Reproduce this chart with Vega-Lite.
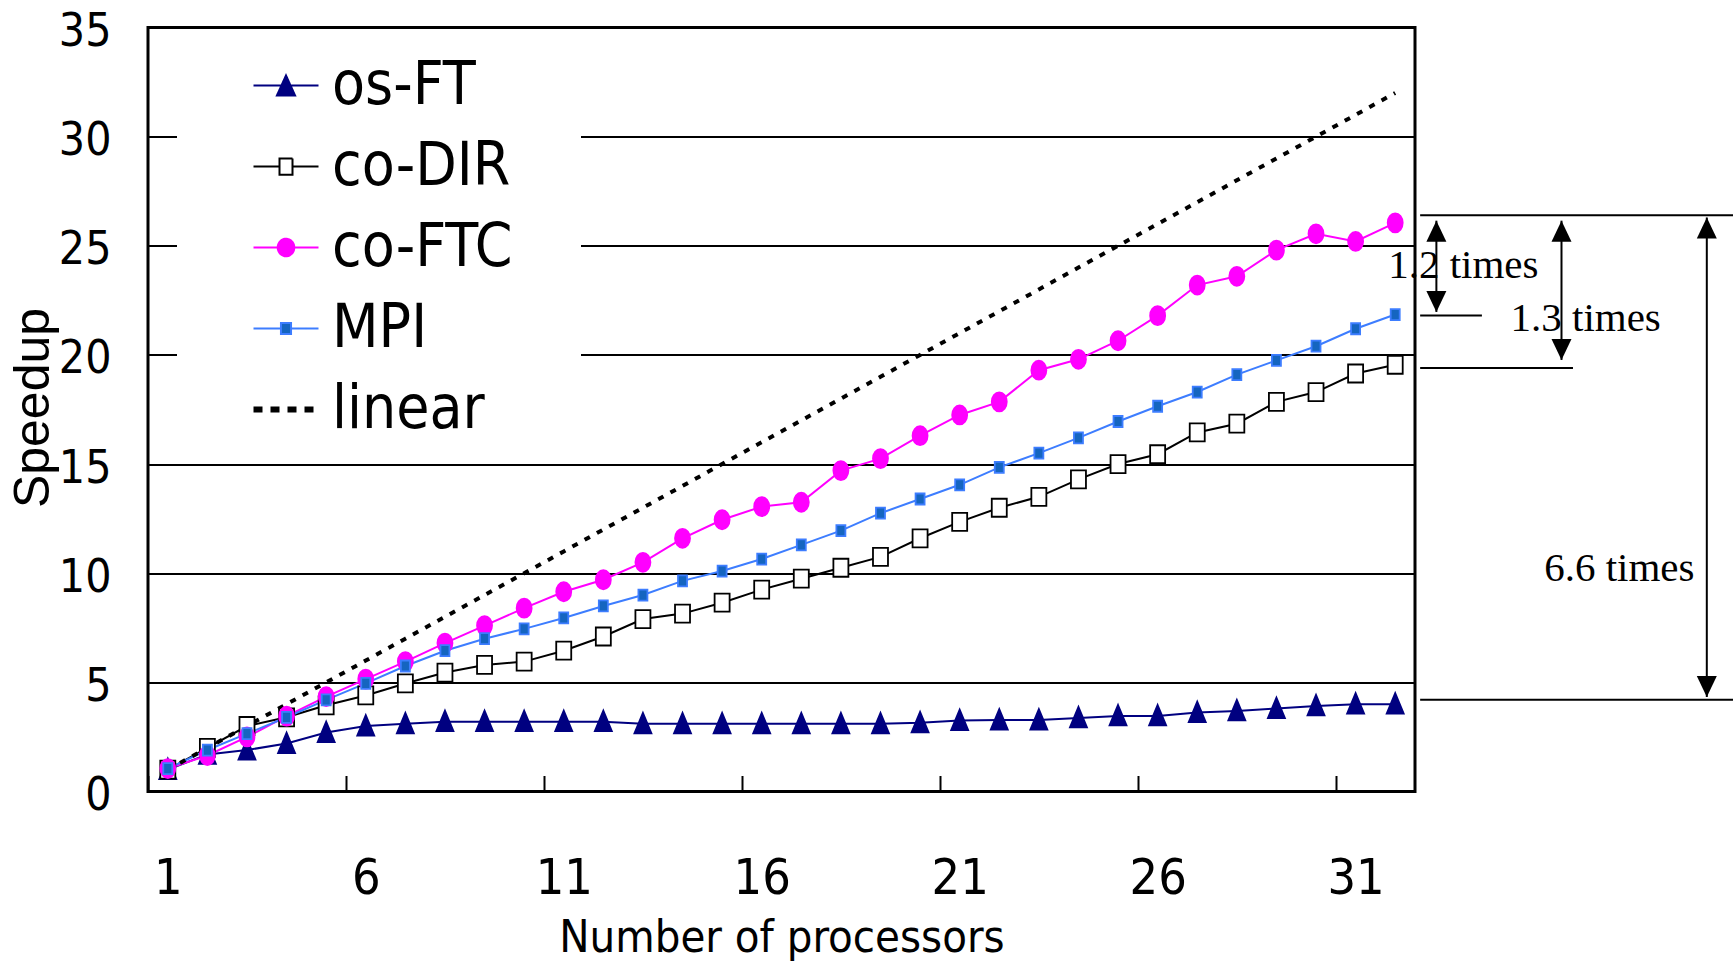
{
  "$schema": "https://vega.github.io/schema/vega-lite/v6.json",
  "width": 1267,
  "height": 764,
  "autosize": {"type": "none"},
  "padding": {"left": 148, "top": 27.5, "right": 318, "bottom": 175.5},
  "background": "white",
  "config": {
    "view": {"stroke": "black", "strokeWidth": 3},
    "axis": {"labelColor": "black", "titleColor": "black"}
  },
  "data": {"values": [
    {"p":1,"series":"os-FT","speedup":1.0},{"p":2,"series":"os-FT","speedup":1.7},{"p":3,"series":"os-FT","speedup":1.9},{"p":4,"series":"os-FT","speedup":2.2},{"p":5,"series":"os-FT","speedup":2.7},{"p":6,"series":"os-FT","speedup":3.0},{"p":7,"series":"os-FT","speedup":3.1},{"p":8,"series":"os-FT","speedup":3.2},{"p":9,"series":"os-FT","speedup":3.2},{"p":10,"series":"os-FT","speedup":3.2},{"p":11,"series":"os-FT","speedup":3.2},{"p":12,"series":"os-FT","speedup":3.2},{"p":13,"series":"os-FT","speedup":3.1},{"p":14,"series":"os-FT","speedup":3.1},{"p":15,"series":"os-FT","speedup":3.1},{"p":16,"series":"os-FT","speedup":3.1},{"p":17,"series":"os-FT","speedup":3.1},{"p":18,"series":"os-FT","speedup":3.1},{"p":19,"series":"os-FT","speedup":3.1},{"p":20,"series":"os-FT","speedup":3.15},{"p":21,"series":"os-FT","speedup":3.25},{"p":22,"series":"os-FT","speedup":3.27},{"p":23,"series":"os-FT","speedup":3.27},{"p":24,"series":"os-FT","speedup":3.37},{"p":25,"series":"os-FT","speedup":3.46},{"p":26,"series":"os-FT","speedup":3.46},{"p":27,"series":"os-FT","speedup":3.62},{"p":28,"series":"os-FT","speedup":3.69},{"p":29,"series":"os-FT","speedup":3.8},{"p":30,"series":"os-FT","speedup":3.92},{"p":31,"series":"os-FT","speedup":4.0},{"p":32,"series":"os-FT","speedup":4.0},
    {"p":1,"series":"co-DIR","speedup":1.0},{"p":2,"series":"co-DIR","speedup":2.0},{"p":3,"series":"co-DIR","speedup":3.0},{"p":4,"series":"co-DIR","speedup":3.4},{"p":5,"series":"co-DIR","speedup":3.95},{"p":6,"series":"co-DIR","speedup":4.4},{"p":7,"series":"co-DIR","speedup":4.95},{"p":8,"series":"co-DIR","speedup":5.45},{"p":9,"series":"co-DIR","speedup":5.8},{"p":10,"series":"co-DIR","speedup":5.95},{"p":11,"series":"co-DIR","speedup":6.45},{"p":12,"series":"co-DIR","speedup":7.1},{"p":13,"series":"co-DIR","speedup":7.9},{"p":14,"series":"co-DIR","speedup":8.15},{"p":15,"series":"co-DIR","speedup":8.65},{"p":16,"series":"co-DIR","speedup":9.25},{"p":17,"series":"co-DIR","speedup":9.75},{"p":18,"series":"co-DIR","speedup":10.25},{"p":19,"series":"co-DIR","speedup":10.75},{"p":20,"series":"co-DIR","speedup":11.6},{"p":21,"series":"co-DIR","speedup":12.35},{"p":22,"series":"co-DIR","speedup":13.0},{"p":23,"series":"co-DIR","speedup":13.5},{"p":24,"series":"co-DIR","speedup":14.3},{"p":25,"series":"co-DIR","speedup":15.0},{"p":26,"series":"co-DIR","speedup":15.45},{"p":27,"series":"co-DIR","speedup":16.45},{"p":28,"series":"co-DIR","speedup":16.85},{"p":29,"series":"co-DIR","speedup":17.85},{"p":30,"series":"co-DIR","speedup":18.3},{"p":31,"series":"co-DIR","speedup":19.15},{"p":32,"series":"co-DIR","speedup":19.55},
    {"p":1,"series":"co-FTC","speedup":1.05},{"p":2,"series":"co-FTC","speedup":1.65},{"p":3,"series":"co-FTC","speedup":2.5},{"p":4,"series":"co-FTC","speedup":3.45},{"p":5,"series":"co-FTC","speedup":4.35},{"p":6,"series":"co-FTC","speedup":5.15},{"p":7,"series":"co-FTC","speedup":5.95},{"p":8,"series":"co-FTC","speedup":6.8},{"p":9,"series":"co-FTC","speedup":7.6},{"p":10,"series":"co-FTC","speedup":8.4},{"p":11,"series":"co-FTC","speedup":9.15},{"p":12,"series":"co-FTC","speedup":9.7},{"p":13,"series":"co-FTC","speedup":10.5},{"p":14,"series":"co-FTC","speedup":11.6},{"p":15,"series":"co-FTC","speedup":12.45},{"p":16,"series":"co-FTC","speedup":13.05},{"p":17,"series":"co-FTC","speedup":13.25},{"p":18,"series":"co-FTC","speedup":14.7},{"p":19,"series":"co-FTC","speedup":15.25},{"p":20,"series":"co-FTC","speedup":16.3},{"p":21,"series":"co-FTC","speedup":17.25},{"p":22,"series":"co-FTC","speedup":17.85},{"p":23,"series":"co-FTC","speedup":19.3},{"p":24,"series":"co-FTC","speedup":19.8},{"p":25,"series":"co-FTC","speedup":20.65},{"p":26,"series":"co-FTC","speedup":21.8},{"p":27,"series":"co-FTC","speedup":23.2},{"p":28,"series":"co-FTC","speedup":23.6},{"p":29,"series":"co-FTC","speedup":24.8},{"p":30,"series":"co-FTC","speedup":25.55},{"p":31,"series":"co-FTC","speedup":25.2},{"p":32,"series":"co-FTC","speedup":26.05},
    {"p":1,"series":"MPI","speedup":1.05},{"p":2,"series":"MPI","speedup":1.9},{"p":3,"series":"MPI","speedup":2.65},{"p":4,"series":"MPI","speedup":3.4},{"p":5,"series":"MPI","speedup":4.2},{"p":6,"series":"MPI","speedup":4.95},{"p":7,"series":"MPI","speedup":5.75},{"p":8,"series":"MPI","speedup":6.45},{"p":9,"series":"MPI","speedup":7.0},{"p":10,"series":"MPI","speedup":7.45},{"p":11,"series":"MPI","speedup":7.95},{"p":12,"series":"MPI","speedup":8.5},{"p":13,"series":"MPI","speedup":9.0},{"p":14,"series":"MPI","speedup":9.65},{"p":15,"series":"MPI","speedup":10.1},{"p":16,"series":"MPI","speedup":10.65},{"p":17,"series":"MPI","speedup":11.3},{"p":18,"series":"MPI","speedup":11.95},{"p":19,"series":"MPI","speedup":12.75},{"p":20,"series":"MPI","speedup":13.4},{"p":21,"series":"MPI","speedup":14.05},{"p":22,"series":"MPI","speedup":14.85},{"p":23,"series":"MPI","speedup":15.5},{"p":24,"series":"MPI","speedup":16.2},{"p":25,"series":"MPI","speedup":16.95},{"p":26,"series":"MPI","speedup":17.65},{"p":27,"series":"MPI","speedup":18.3},{"p":28,"series":"MPI","speedup":19.1},{"p":29,"series":"MPI","speedup":19.75},{"p":30,"series":"MPI","speedup":20.4},{"p":31,"series":"MPI","speedup":21.2},{"p":32,"series":"MPI","speedup":21.85},
    {"p":1,"series":"linear","speedup":1},{"p":2,"series":"linear","speedup":2},{"p":3,"series":"linear","speedup":3},{"p":4,"series":"linear","speedup":4},{"p":5,"series":"linear","speedup":5},{"p":6,"series":"linear","speedup":6},{"p":7,"series":"linear","speedup":7},{"p":8,"series":"linear","speedup":8},{"p":9,"series":"linear","speedup":9},{"p":10,"series":"linear","speedup":10},{"p":11,"series":"linear","speedup":11},{"p":12,"series":"linear","speedup":12},{"p":13,"series":"linear","speedup":13},{"p":14,"series":"linear","speedup":14},{"p":15,"series":"linear","speedup":15},{"p":16,"series":"linear","speedup":16},{"p":17,"series":"linear","speedup":17},{"p":18,"series":"linear","speedup":18},{"p":19,"series":"linear","speedup":19},{"p":20,"series":"linear","speedup":20},{"p":21,"series":"linear","speedup":21},{"p":22,"series":"linear","speedup":22},{"p":23,"series":"linear","speedup":23},{"p":24,"series":"linear","speedup":24},{"p":25,"series":"linear","speedup":25},{"p":26,"series":"linear","speedup":26},{"p":27,"series":"linear","speedup":27},{"p":28,"series":"linear","speedup":28},{"p":29,"series":"linear","speedup":29},{"p":30,"series":"linear","speedup":30},{"p":31,"series":"linear","speedup":31},{"p":32,"series":"linear","speedup":32}
  ]},
  "layer": [
    {
      "transform": [{"filter": "datum.series !== 'linear'"}],
      "mark": {"type": "line", "strokeWidth": 2},
      "encoding": {
        "x": {"field": "p", "type": "quantitative",
          "scale": {"domain": [0.5, 32.5], "nice": false, "zero": false},
          "axis": {
            "title": "Number of processors",
            "values": [0.5, 5.5, 10.5, 15.5, 20.5, 25.5, 30.5],
            "labelExpr": "'' + (datum.value + 0.5)",
            "labelOffset": 19.8,
            "labelFlush": false, "labelOverlap": false,
            "grid": false, "domain": false,
            "ticks": true, "tickSize": -16, "tickWidth": 2, "tickColor": "black",
            "labelFont": "Liberation Sans Narrow, DejaVu Sans Condensed, sans-serif",
            "labelFontSize": 50, "labelBaseline": "alphabetic", "labelPadding": 118,
            "titleFont": "Liberation Sans Narrow, DejaVu Sans Condensed, sans-serif",
            "titleFontSize": 45, "titleFontWeight": "normal",
            "titleX": 633.5, "titleY": 160, "titleBaseline": "alphabetic", "titleAlign": "center"
          }
        },
        "y": {"field": "speedup", "type": "quantitative",
          "scale": {"domain": [0, 35], "nice": false, "zero": false},
          "axis": {
            "title": "Speedup",
            "values": [0, 5, 10, 15, 20, 25, 30, 35],
            "grid": true, "gridColor": "black", "gridWidth": 1.8, "gridOpacity": 1,
            "domain": false, "ticks": false,
            "labelFlush": false, "labelOverlap": false,
            "labelPadding": 37, "labelOffset": 4,
            "labelFont": "Liberation Sans Narrow, DejaVu Sans Condensed, sans-serif",
            "labelFontSize": 46, "labelBaseline": "middle",
            "titleFont": "Liberation Sans, Arial, sans-serif",
            "titleFontSize": 50, "titleFontWeight": "normal",
            "titleAngle": 270, "titleX": -100, "titleY": 380,
            "titleBaseline": "alphabetic", "titleAlign": "center"
          }
        },
        "stroke": {"field": "series", "type": "nominal",
          "scale": {"domain": ["os-FT", "co-DIR", "co-FTC", "MPI", "linear"],
                    "range": ["#000080", "#000000", "#ff00ff", "#3d7dff", "#000000"]},
          "legend": {
            "title": null, "orient": "none", "legendX": 29, "legendY": 10,
            "fillColor": "white", "padding": 18,
            "symbolSize": 4225, "symbolStrokeWidth": 2, "symbolOffset": 61,
            "labelFont": "Liberation Sans Narrow, DejaVu Sans Condensed, sans-serif",
            "labelFontSize": 60, "labelColor": "black", "labelLimit": 800,
            "labelOffset": 16, "rowPadding": 21,
            "labelExpr": "datum.label + '\u2009\u2800'",
            "encode": {
              "symbols": {
                "update": {
                  "shape": {"signal": "datum.value === 'os-FT' ? 'M-1,0H1M0,-0.31L0.28,0.31L-0.28,0.31Z' : datum.value === 'co-DIR' ? 'M-1,0H-0.2M0.2,0H1M-0.2,-0.25H0.2V0.25H-0.2Z' : datum.value === 'co-FTC' ? 'M-1,0H1M-0.255,0C-0.255,-0.149 -0.141,-0.27 0,-0.27C0.141,-0.27 0.255,-0.149 0.255,0C0.255,0.149 0.141,0.27 0,0.27C-0.141,0.27 -0.255,0.149 -0.255,0Z' : datum.value === 'MPI' ? 'M-1,0H-0.155M0.155,0H1M-0.155,-0.17H0.155V0.17H-0.155Z' : 'M-1,0H1'"},
                  "fill": {"signal": "datum.value === 'os-FT' ? '#000080' : datum.value === 'co-DIR' ? '#ffffff' : datum.value === 'co-FTC' ? '#ff00ff' : datum.value === 'MPI' ? '#1565c0' : 'transparent'"},
                  "stroke": {"signal": "datum.value === 'os-FT' ? '#000080' : datum.value === 'co-FTC' ? '#ff00ff' : datum.value === 'MPI' ? '#3d7dff' : '#000000'"},
                  "strokeWidth": {"signal": "datum.value === 'linear' ? 6 : 2"},
                  "strokeDash": {"signal": "datum.value === 'linear' ? [9, 8] : [1, 0]"},
                  "opacity": {"value": 1}
                }
              }
            }
          }
        }
      }
    },
    {
      "transform": [{"filter": "datum.series === 'linear'"}],
      "mark": {"type": "line", "strokeWidth": 4, "strokeDash": [6, 8], "color": "black"},
      "encoding": {
        "x": {"field": "p", "type": "quantitative", "scale": {"domain": [0.5, 32.5], "nice": false, "zero": false}},
        "y": {"field": "speedup", "type": "quantitative", "scale": {"domain": [0, 35], "nice": false, "zero": false}}
      }
    },
    {
      "transform": [{"filter": "datum.series !== 'linear'"}],
      "mark": {"type": "point", "opacity": 1, "size": 400, "strokeWidth": 1.8},
      "encoding": {
        "x": {"field": "p", "type": "quantitative", "scale": {"domain": [0.5, 32.5], "nice": false, "zero": false}},
        "y": {"field": "speedup", "type": "quantitative", "scale": {"domain": [0, 35], "nice": false, "zero": false}},
        "shape": {"field": "series", "type": "nominal", "legend": null,
          "scale": {"domain": ["os-FT", "co-DIR", "co-FTC", "MPI"],
            "range": [
              "M0,-1.1L0.85,0.95L-0.85,0.95Z",
              "M-0.75,-0.9H0.75V0.9H-0.75Z",
              "M-0.75,0C-0.75,-0.525 -0.414,-0.95 0,-0.95C0.414,-0.95 0.75,-0.525 0.75,0C0.75,0.525 0.414,0.95 0,0.95C-0.414,0.95 -0.75,0.525 -0.75,0Z",
              "M-0.45,-0.55H0.45V0.55H-0.45Z"
            ]}},
        "fill": {"field": "series", "type": "nominal", "legend": null,
          "scale": {"domain": ["os-FT", "co-DIR", "co-FTC", "MPI"],
                    "range": ["#000080", "#ffffff", "#ff00ff", "#1565c0"]}},
        "stroke": {"field": "series", "type": "nominal",
          "scale": {"domain": ["os-FT", "co-DIR", "co-FTC", "MPI", "linear"],
                    "range": ["#000080", "#000000", "#ff00ff", "#3d7dff", "#000000"]}}
      }
    },
    {
      "data": {"values": [
        {"ax": 32.63, "ax2": 40.6, "ay": 26.4},
        {"ax": 32.63, "ax2": 34.19, "ay": 21.81},
        {"ax": 32.63, "ax2": 36.49, "ay": 19.4},
        {"ax": 32.63, "ax2": 40.6, "ay": 4.2}
      ]},
      "mark": {"type": "rule", "color": "black", "strokeWidth": 2},
      "encoding": {
        "x": {"field": "ax", "type": "quantitative", "scale": {"domain": [0.5, 32.5], "nice": false, "zero": false}},
        "x2": {"field": "ax2"},
        "y": {"field": "ay", "type": "quantitative", "scale": {"domain": [0, 35], "nice": false, "zero": false}}
      }
    },
    {
      "data": {"values": [
        {"ax": 33.04, "top": 26.15, "bottom": 21.97},
        {"ax": 36.2, "top": 26.15, "bottom": 19.77},
        {"ax": 39.87, "top": 26.3, "bottom": 4.33}
      ]},
      "mark": {"type": "rule", "color": "black", "strokeWidth": 2},
      "encoding": {
        "x": {"field": "ax", "type": "quantitative", "scale": {"domain": [0.5, 32.5], "nice": false, "zero": false}},
        "y": {"field": "top", "type": "quantitative", "scale": {"domain": [0, 35], "nice": false, "zero": false}},
        "y2": {"field": "bottom"}
      }
    },
    {
      "data": {"values": [
        {"ax": 33.04, "top": 26.15},
        {"ax": 36.2, "top": 26.15},
        {"ax": 39.87, "top": 26.3}
      ]},
      "mark": {"type": "point", "shape": "M0,0L1,2.1L-1,2.1Z", "size": 400, "filled": true, "color": "black", "opacity": 1},
      "encoding": {
        "x": {"field": "ax", "type": "quantitative", "scale": {"domain": [0.5, 32.5], "nice": false, "zero": false}},
        "y": {"field": "top", "type": "quantitative", "scale": {"domain": [0, 35], "nice": false, "zero": false}}
      }
    },
    {
      "data": {"values": [
        {"ax": 33.04, "bottom": 21.97},
        {"ax": 36.2, "bottom": 19.77},
        {"ax": 39.87, "bottom": 4.33}
      ]},
      "mark": {"type": "point", "shape": "M0,0L1,-2.1L-1,-2.1Z", "size": 400, "filled": true, "color": "black", "opacity": 1},
      "encoding": {
        "x": {"field": "ax", "type": "quantitative", "scale": {"domain": [0.5, 32.5], "nice": false, "zero": false}},
        "y": {"field": "bottom", "type": "quantitative", "scale": {"domain": [0, 35], "nice": false, "zero": false}}
      }
    },
    {
      "data": {"values": [
        {"tx": 33.72, "ty": 23.52, "label": "1.2 times"},
        {"tx": 36.81, "ty": 21.11, "label": "1.3 times"},
        {"tx": 37.66, "ty": 9.66, "label": "6.6 times"}
      ]},
      "mark": {"type": "text", "font": "Liberation Serif, Times New Roman, serif", "fontSize": 41, "color": "black", "align": "center", "baseline": "alphabetic"},
      "encoding": {
        "x": {"field": "tx", "type": "quantitative", "scale": {"domain": [0.5, 32.5], "nice": false, "zero": false}},
        "y": {"field": "ty", "type": "quantitative", "scale": {"domain": [0, 35], "nice": false, "zero": false}},
        "text": {"field": "label"}
      }
    }
  ]
}
